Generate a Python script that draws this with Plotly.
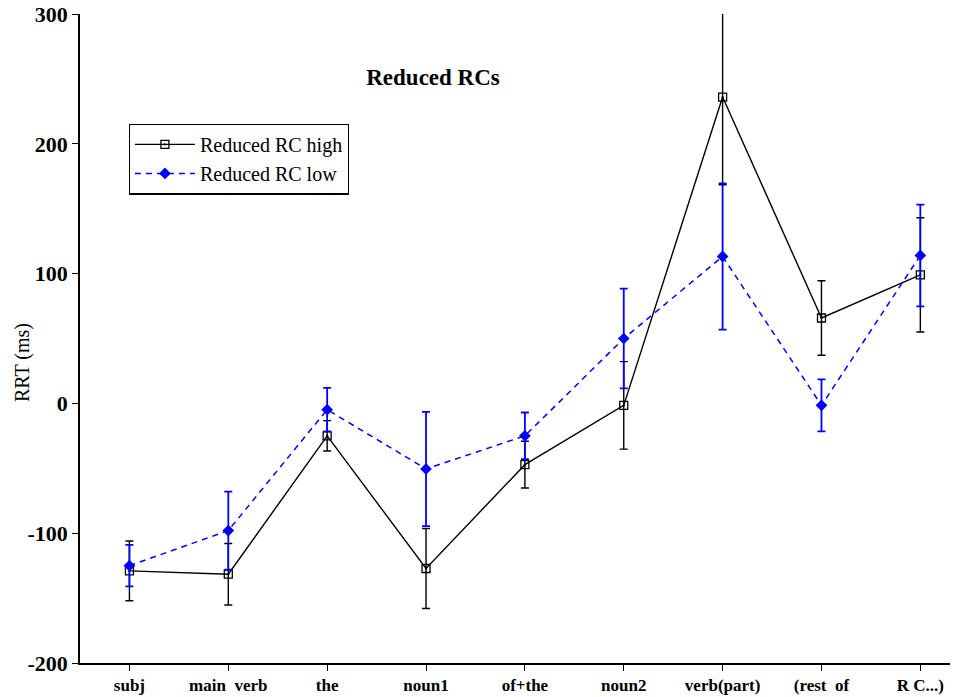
import plotly.graph_objects as go

# Regions of the sentence and mean residual reading times (ms)
regions = ["subj", "main  verb", "the", "noun1", "of+the", "noun2",
           "verb(part)", "(rest  of", "R C...)"]

high_rrt = [-129, -131.6, -25, -127.2, -47.2, -1.5, 236, 65.8, 99]
high_err = [23, 23.7, 11.7, 30.8, 18, 33.7, 67.5, 28.7, 44]

low_rrt = [-125, -98, -4.8, -50.5, -25, 50, 113.2, -1.5, 114]
low_err = [16, 30, 16.7, 44, 18, 38.5, 56.3, 20, 39.2]

y_ticks = [-200, -100, 0, 100, 200, 300]
y_tick_text = ["-200", "-100", "0", "100", "200", "300"]

SERIF = "Liberation Serif"

fig = go.Figure()

fig.add_trace(go.Scatter(
    x=regions, y=high_rrt, name="Reduced RC high",
    mode="lines+markers",
    line=dict(color="black", width=1.4),
    marker=dict(symbol="square-open-dot", size=8, color="black",
                line=dict(width=1.3, color="black")),
    error_y=dict(type="data", array=high_err, visible=True,
                 color="black", thickness=1.4, width=4),
))

fig.add_trace(go.Scatter(
    x=regions, y=low_rrt, name="Reduced RC low",
    mode="lines+markers",
    line=dict(color="#0000ff", width=1.5, dash="6px,5px"),
    marker=dict(symbol="diamond", size=9, color="#0000ff"),
    error_y=dict(type="data", array=low_err, visible=True,
                 color="#0000ff", thickness=1.8, width=4),
))

fig.update_layout(
    width=961, height=697,
    margin=dict(l=80, r=11, t=14, b=34),
    plot_bgcolor="white", paper_bgcolor="white",
    font=dict(family=SERIF, color="black"),
    title=dict(text="<b>Reduced RCs</b>", font=dict(family=SERIF, size=23),
               xref="paper", x=(433 - 80) / 870, xanchor="center",
               yref="container", y=1 - 77 / 697, yanchor="middle"),
    showlegend=True,
    legend=dict(x=0.056, y=0.831, xanchor="left", yanchor="top",
                bordercolor="black", borderwidth=1.2, bgcolor="white",
                font=dict(family=SERIF, size=20),
                entrywidth=232, entrywidthmode="pixels",
                itemwidth=60, tracegroupgap=0),
    annotations=[dict(
        text="RRT (ms)", textangle=-90, showarrow=False,
        xref="paper", x=(22 - 80) / 870, xanchor="center",
        yref="paper", y=1 - (363 - 14) / 649, yanchor="middle",
        font=dict(family=SERIF, size=20),
    )],
)

fig.update_xaxes(
    type="category", range=[-0.5, 8.3], automargin=False,
    showline=True, linecolor="black", linewidth=1.5,
    ticks="outside", ticklen=6, tickwidth=1.2, tickcolor="black",
    tickfont=dict(family=SERIF, size=17, weight="bold"),
    showgrid=False, zeroline=False,
)

fig.update_yaxes(
    range=[-200, 300], automargin=False,
    tickvals=y_ticks, ticktext=y_tick_text,
    showline=True, linecolor="black", linewidth=1.5,
    ticks="outside", ticklen=6, tickwidth=1.2, tickcolor="black",
    tickfont=dict(family=SERIF, size=22, weight="bold"),
    showgrid=False, zeroline=False,
)

fig.write_html("out.html")
